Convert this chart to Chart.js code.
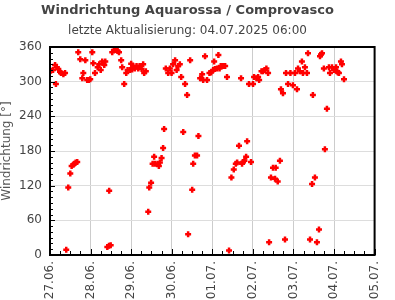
<!DOCTYPE html>
<html>
<head>
<meta charset="utf-8">
<script src="https://cdn.jsdelivr.net/npm/chart.js@4/dist/chart.umd.min.js"></script>
<style>
html,body{margin:0;padding:0;background:#fff;}
#wrap{width:395px;height:300px;position:relative;}
</style>
</head>
<body>
<div id="wrap"><canvas id="c" width="395" height="300"></canvas></div>
<script>
// Hours since 27.06.2025 00:00
const hours = [0.6,1.8,3,3.5,4,4.9,5.9,6.5,7.9,8.9,9.6,10.8,12,12.8,13.8,14.4,15.2,16.1,16.7,17.9,
19.1,19.7,20.9,22,22.9,23.8,25,25.6,26.6,28.2,29.1,30,30.9,32.1,32.7,33.9,34.9,35,35.9,36.8,
37.8,38.8,40,40.8,42.1,42.7,43.9,45.1,45.9,47.3,48,48.6,49.2,50.2,51.2,52.2,53,54.2,55.1,55.7,
56.7,58.1,58.7,59.8,60.7,61.6,62,63.6,64.4,65,66,66.9,67.5,68.5,69.9,70.9,71.9,72.8,74,74.9,
75.8,76.8,77.6,78.8,79.9,81.1,81.7,82.9,84.1,84.7,85.7,87,87.8,88.8,90,90.6,91.7,92.9,94.3,95.3,
96.5,97.1,97.5,98.8,99.6,100.3,101,102.4,103.6,104.7,105.9,107.3,108.7,109.9,110.7,111.8,113,113.6,114.2,115,
116,116.6,117.7,118.9,120.1,120.7,122.1,123.1,123.7,125.1,126,127,128,129,129.6,130.7,131.9,133.1,133.5,134.7,
136,136.6,137.8,139,139.6,140.8,142.2,143.7,144.9,146.1,146.7,147.7,149,149.6,150.8,152,152.6,153.8,155,155.5,
156.7,157.9,159.1,159.7,160.3,160.9,162,162.6,163.8,165,165.6,166.8,168,169.2,169.6,170.3,170.9,172.1,172.7,173.9];
// Wind direction in degrees
const directions = [319,320,329,296,325,322,317,315,313,315,9,117,141,154,156,158,160,161,351,339,
306,315,337,303,303,304,351,332,315,325,330,320,335,329,335,14,16,111,17,351,
355,355,353,351,337,325,296,315,320,320,331,321,327,323,327,323,327,322,330,315,
318,75,117,125,158,170,158,158,154,160,168,185,218,323,315,323,315,330,337,320,
327,330,308,213,296,277,36,337,113,158,172,172,206,306,313,303,344,303,315,316,
320,335,322,323,346,323,327,327,327,308,8,134,148,158,160,189,306,158,161,163,
170,197,296,161,296,308,306,308,303,318,318,320,323,315,22,134,151,132,151,127,
163,287,280,27,315,296,315,294,315,287,323,318,335,315,325,315,349,27,123,277,
134,22,44,344,347,349,323,183,253,325,315,325,320,325,318,316,315,335,330,304];
const dayLabels = ['27.06.','28.06.','29.06.','30.06.','01.07.','02.07.','03.07.','04.07.','05.07.'];
const yTicks = [0,60,120,180,240,300,360];

const FONT = 'DejaVu Sans';
const points = hours.map((h,i)=>({x:h,y:directions[i]}));

const frame = {
  id:'frame',
  afterDraw(chart){
    const {ctx, chartArea:a, scales:{x,y}} = chart;
    ctx.save();
    ctx.strokeStyle = '#000';
    ctx.lineWidth = 1;
    for(let v=0; v<=360; v+=10){
      const py = Math.round(y.getPixelForValue(v))+0.5;
      const len = (v%60===0)?5:3;
      ctx.beginPath(); ctx.moveTo(a.left, py); ctx.lineTo(a.left+len, py); ctx.stroke();
    }
    for(let h=0; h<=192; h+=6){
      const px = Math.round(x.getPixelForValue(h))+0.5;
      const len = (h%24===0)?6:4;
      ctx.beginPath(); ctx.moveTo(px, a.bottom); ctx.lineTo(px, a.bottom-len); ctx.stroke();
    }
    ctx.lineWidth = 2;
    ctx.strokeRect(a.left, a.top, a.right-a.left, a.bottom-a.top);
    ctx.restore();
  }
};

new Chart(document.getElementById('c'), {
  type:'scatter',
  data:{datasets:[{
    data:points,
    pointStyle:'cross',
    pointRadius:3,
    pointBorderWidth:2.5,
    borderColor:'#ff0000',
    backgroundColor:'#ff0000',
    pointHoverRadius:3
  }]},
  options:{
    responsive:false,
    animation:false,
    layout:{padding:{left:0,right:20,top:0,bottom:0}},
    plugins:{
      legend:{display:false},
      tooltip:{enabled:false},
      title:{display:true,text:'Windrichtung Aquarossa / Comprovasco',color:'#444',
        font:{family:FONT,size:13,weight:'bold'},padding:{top:3,bottom:2}},
      subtitle:{display:true,text:'letzte Aktualisierung: 04.07.2025 06:00',color:'#444',
        font:{family:FONT,size:12},padding:{top:3,bottom:9}}
    },
    scales:{
      x:{type:'linear',min:0,max:192,
        afterFit(s){s.height=45;},
        afterBuildTicks(s){s.ticks=dayLabels.map((_,i)=>({value:i*24}));},
        ticks:{autoSkip:false,maxRotation:90,minRotation:90,padding:6,color:'#444',
          font:{family:FONT,size:12},
          callback:(v)=>dayLabels[Math.round(v/24)]},
        grid:{color:'#cccccc',drawTicks:false},
        border:{display:true,color:'#000',width:2}
      },
      y:{min:0,max:360,
        afterFit(s){s.width=50;},
        afterBuildTicks(s){s.ticks=yTicks.map(v=>({value:v}));},
        ticks:{padding:8,color:'#444',font:{family:FONT,size:12}},
        title:{display:true,text:'Windrichtung [°]',color:'#555',font:{family:FONT,size:12},padding:{top:0,bottom:0}},
        grid:{color:'#dddddd',drawTicks:false},
        border:{display:true,color:'#000',width:2}
      }
    }
  },
  plugins:[frame]
});
</script>
</body>
</html>
